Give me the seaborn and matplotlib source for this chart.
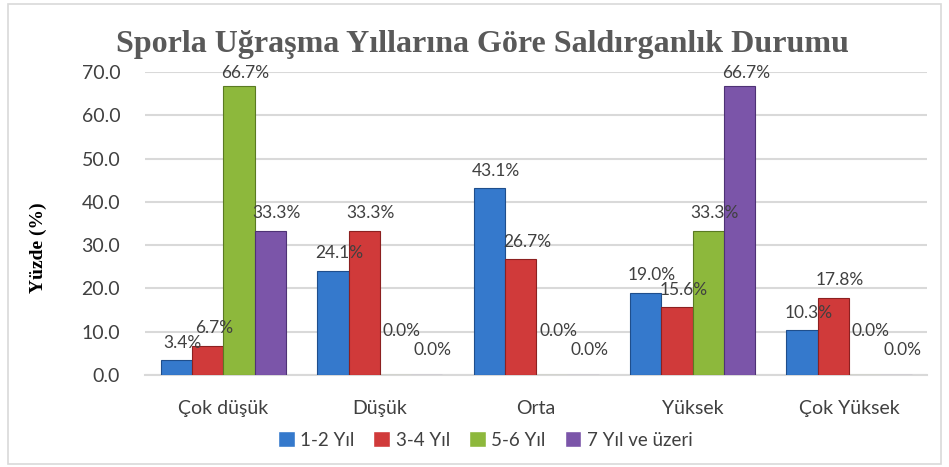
import pandas as pd
import matplotlib.pyplot as plt
import seaborn as sns
from matplotlib.patches import Rectangle

# Values
categories = ['Çok düşük', 'Düşük', 'Orta', 'Yüksek', 'Çok Yüksek']
series = ['1-2 Yıl', '3-4 Yıl', '5-6 Yıl', '7 Yıl ve üzeri']
v_1_2 = [3.4, 24.1, 43.1, 19.0, 10.3]
v_3_4 = [6.7, 33.3, 26.7, 15.6, 17.8]
v_5_6 = [66.7, 0.0, 0.0, 33.3, 0.0]
v_7 = [33.3, 0.0, 0.0, 66.7, 0.0]
y_ticks = [0, 10, 20, 30, 40, 50, 60, 70]

colors = ['#3579CC', '#D03A3A', '#8DB83C', '#7B55A9']
edges = ['#1F4E8C', '#8C2020', '#5A7A22', '#4E3275']

rows = []
for name, vals in zip(series, [v_1_2, v_3_4, v_5_6, v_7]):
    for cat, v in zip(categories, vals):
        rows.append({'Kategori': cat, 'Grup': name, 'Yüzde': v})
df = pd.DataFrame(rows)

sns.set_style('white')
plt.rcParams['font.family'] = ['Lato', 'DejaVu Sans']

fig = plt.figure(figsize=(9.49, 4.67), dpi=100)
ax = fig.add_axes([0.153, 0.197, 0.824, 0.649])

sns.barplot(data=df, x='Kategori', y='Yüzde', hue='Grup', order=categories,
            hue_order=series, palette=colors, width=0.8, saturation=1,
            errorbar=None, ax=ax, zorder=3)

for cont, ec in zip(ax.containers, edges):
    for bar in cont:
        bar.set_edgecolor(ec)
        bar.set_linewidth(0.8)

# data labels, zeros sit higher like in the original
zero_pad = [6, 6, 26, 12]
for i, cont in enumerate(ax.containers):
    for bar in cont:
        h = bar.get_height()
        pad = zero_pad[i] if h == 0 else (4 if h > 60 else 7)
        ax.annotate(f'{h:.1f}%', (bar.get_x() + bar.get_width() * 0.7, h),
                    xytext=(0, pad), textcoords='offset points',
                    ha='center', va='bottom', fontsize=12.5, color='#404040')

ax.set_ylim(0, 70)
ax.set_yticks(y_ticks)
ax.set_yticklabels([f'{t:.1f}' for t in y_ticks], fontsize=14, color='#404040')
ax.tick_params(axis='x', labelsize=14, colors='#404040', length=0, pad=18)
ax.tick_params(axis='y', length=0, pad=18)
ax.yaxis.grid(True, color='#D9D9D9', linewidth=1.5, zorder=0)
ax.set_axisbelow(True)
for s in ['top', 'right', 'left']:
    ax.spines[s].set_visible(False)
ax.spines['bottom'].set_color('#D9D9D9')
ax.spines['bottom'].set_linewidth(1.5)
ax.set_xlabel('')
ax.set_ylabel('Yüzde (%)', fontsize=14, fontweight='bold',
              family='Liberation Serif', color='black', labelpad=20)
ax.yaxis.set_label_coords(-0.125, 0.42)

fig.text(0.508, 0.905, 'Sporla Uğraşma Yıllarına Göre Saldırganlık Durumu',
         ha='center', va='center', fontsize=23, fontweight='bold',
         family='Liberation Serif', color='#595959')

ax.legend(loc='upper center', bbox_to_anchor=(0.435, -0.13), ncol=4,
          frameon=False, fontsize=13.5, handlelength=0.9, handleheight=0.9,
          handletextpad=0.3, columnspacing=1.0, labelcolor='#404040')

fig.patches.append(Rectangle((0.008, 0.006), 0.984, 0.985, transform=fig.transFigure,
                             fill=False, edgecolor='#D9D9D9', linewidth=1.2))

fig.savefig('out.png', dpi=100)
